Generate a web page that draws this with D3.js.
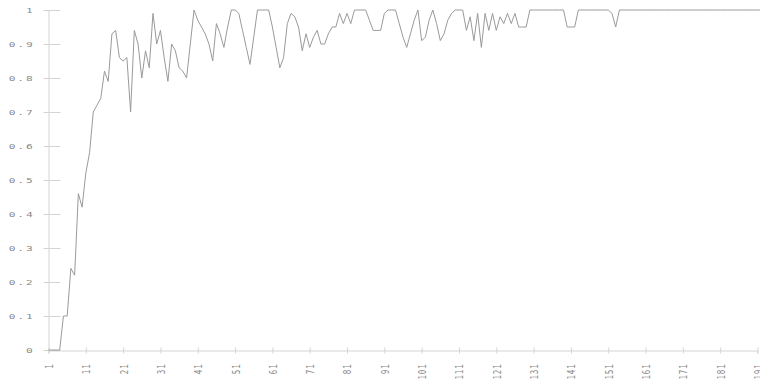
<!DOCTYPE html>
<html><head><meta charset="utf-8">
<script src="https://cdn.jsdelivr.net/npm/d3@7/dist/d3.min.js"></script>
<style>body{margin:0;background:#fff}svg{display:block}</style>
</head><body>
<script>
// Data
const epochs = d3.range(1, 193);
const accuracy = [
 0,0,0,0,0.10,0.10,0.24,0.22,0.46,0.42,
 0.52,0.58,0.70,0.72,0.74,0.82,0.79,0.93,0.94,0.86,
 0.85,0.86,0.70,0.94,0.90,0.80,0.88,0.83,0.99,0.90,
 0.94,0.86,0.79,0.90,0.88,0.83,0.82,0.80,0.90,1.00,
 0.97,0.95,0.93,0.90,0.85,0.96,0.93,0.89,0.95,1.00,
 1.00,0.99,0.94,0.89,0.84,0.92,1.00,1.00,1.00,1.00,
 0.95,0.89,0.83,0.86,0.96,0.99,0.98,0.95,0.88,0.93,
 0.89,0.92,0.94,0.90,0.90,0.93,0.95,0.95,0.99,0.96,
 0.99,0.96,1.00,1.00,1.00,1.00,0.97,0.94,0.94,0.94,
 0.99,1.00,1.00,1.00,0.96,0.92,0.89,0.93,0.97,1.00,
 0.91,0.92,0.97,1.00,0.96,0.91,0.93,0.97,0.99,1.00,
 1.00,1.00,0.94,0.98,0.91,0.99,0.89,0.99,0.94,0.99,
 0.94,0.98,0.96,0.99,0.96,0.99,0.95,0.95,0.95,1.00,
 1.00,1.00,1.00,1.00,1.00,1.00,1.00,1.00,1.00,0.95,
 0.95,0.95,1.00,1.00,1.00,1.00,1.00,1.00,1.00,1.00,
 1.00,0.99,0.95,1.00,1.00,1.00,1.00,1.00,1.00,1.00,
 1.00,1.00,1.00,1.00,1.00,1.00,1.00,1.00,1.00,1.00,
 1.00,1.00,1.00,1.00,1.00,1.00,1.00,1.00,1.00,1.00,
 1.00,1.00,1.00,1.00,1.00,1.00,1.00,1.00,1.00,1.00,
 1.00,1.00
];
const xTicks = d3.range(1, 192, 10);
const yTicks = d3.range(0, 11).map(d => d / 10);

const W = 760, H = 385;
const svg = d3.select("body").append("svg").attr("width", W).attr("height", H);
const x = d3.scaleLinear().domain([1, 191]).range([48.5, 757.5]);
const y = d3.scaleLinear().domain([0, 1]).range([350, 10]);

const axisCol = "#d4d4d4", textCol = "#8a8a8a";
const font = "'DejaVu Sans Mono', monospace";

// Y axis
const gy = svg.append("g").attr("transform", "translate(48.5,0)")
  .call(d3.axisLeft(y).tickValues(yTicks).tickSize(5).tickFormat(d => d === 0 ? "0" : d === 1 ? "1" : d3.format(".1f")(d)));
gy.select(".domain").attr("stroke", axisCol);
gy.selectAll(".tick line").attr("stroke", axisCol).attr("x2", -5).attr("x1", 12);
gy.selectAll(".tick text").remove();
gy.selectAll(".tick").append("text")
  .attr("transform", "translate(-14,0) scale(1.5,1)")
  .attr("text-anchor", "end").attr("dy", "0.35em")
  .attr("fill", textCol).attr("font-family", font).attr("font-size", 7.5)
  .attr("letter-spacing", 1.2)
  .text(d => d === 0 ? "0" : d === 1 ? "1" : d3.format(".1f")(d));

// X axis
const gx = svg.append("g").attr("transform", "translate(0,350.5)")
  .call(d3.axisBottom(x).tickValues(xTicks).tickSize(3).tickFormat(d3.format("d")));
gx.select(".domain").attr("stroke", axisCol);
gx.selectAll(".tick line").attr("stroke", axisCol).attr("y1", -3).attr("y2", 3);
gx.selectAll(".tick text").remove();
gx.selectAll(".tick").append("text")
  .attr("transform", "translate(0,13) scale(1.5,1) rotate(-90)")
  .attr("text-anchor", "end").attr("dy", "0.35em")
  .attr("fill", textCol).attr("font-family", font).attr("font-size", 7.5)
  .attr("letter-spacing", 0.8)
  .text(d => d);

// Line
const line = d3.line().x((d, i) => x(epochs[i])).y(d => y(d));
svg.append("path").datum(accuracy)
  .attr("fill", "none").attr("stroke", "#9a9a9a").attr("stroke-width", 1)
  .attr("d", line);
</script>
</body></html>
